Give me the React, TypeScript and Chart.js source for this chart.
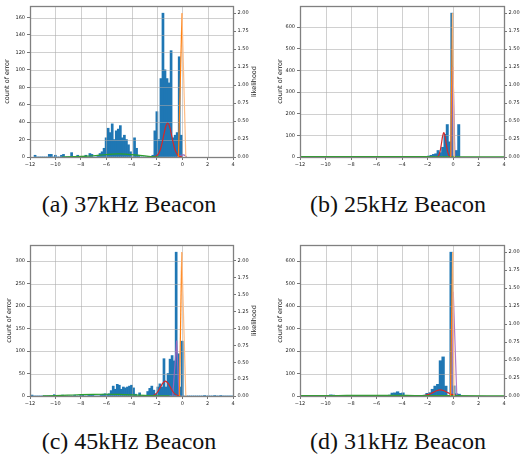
import React, { useEffect, useRef } from "react";
import { Chart, registerables } from "chart.js";

Chart.register(...registerables);

type Pt = [number, number];

// ---------- shared axis values ----------
const X_MIN = -12;
const X_MAX = 4;
const X_STEP = 2;
const LIKE_STEP = 0.25;
const LIKE_TOP_TICK = 2.0;

// ---------- (a) 37kHz Beacon ----------
const A_BIN_START = -11.68;
const A_BIN_WIDTH = 0.16;
const A_COUNTS = [
  2, 0, 0, 0, 0, 0, 0, 3, 3, 0, 2, 0, 0, 2, 3, 0, 0, 0, 5, 0,
  0, 2, 0, 0, 0, 2, 0, 4, 3, 0, 0, 2, 4, 6, 10, 22, 33, 28, 38, 20,
  30, 32, 36, 22, 25, 20, 14, 6, 0, 22, 10, 2, 0, 0, 0, 0, 0, 0, 2, 30,
  52, 20, 90, 165, 100, 90, 85, 122, 22, 25, 28, 115, 25,
];
const A_COUNT_MAX = 173.25;
const A_COUNT_STEP = 20;
const A_COUNT_TOP_TICK = 160;
const A_LIKE_MAX = 2.1;
const A_GREEN: Pt[] = [[-9.5, 0], [-8.5, 0.004], [-7.5, 0.012], [-6.5, 0.026], [-5.5, 0.04], [-5, 0.043], [-4.5, 0.04], [-3.5, 0.026], [-2.8, 0.012], [-2.2, 0.003], [-1.8, 0]];
const A_RED: Pt[] = [[-2.3, 0], [-2.15, 0.005], [-1.95, 0.025], [-1.75, 0.09], [-1.6, 0.186], [-1.45, 0.311], [-1.3, 0.424], [-1.15, 0.47], [-1.0, 0.424], [-0.85, 0.311], [-0.7, 0.186], [-0.55, 0.09], [-0.35, 0.025], [-0.15, 0.005], [0, 0]];
const A_ORANGE: Pt[] = [[-0.3, 0], [-0.02, 2.0], [0.28, 0]];
const A_PURPLE: Pt[] = [[-0.4, 0], [-0.15, 0.025], [0.1, 0.03], [0.35, 0]];

// ---------- (b) 25kHz Beacon ----------
const B_BIN_START = -2.16;
const B_BIN_WIDTH = 0.18;
const B_COUNTS = [3, 5, 8, 12, 15, 30, 20, 45, 105, 150, 70, 665, 5, 30, 150];
const B_COUNT_MAX = 698;
const B_COUNT_STEP = 100;
const B_COUNT_TOP_TICK = 600;
const B_LIKE_MAX = 2.1;
const B_GREEN: Pt[] = [[-12, 0.004], [-8, 0.005], [-4, 0.005], [-2, 0.004], [0, 0.003], [4, 0.002]];
const B_RED: Pt[] = [[-1.3, 0], [-1.17, 0.01], [-1.02, 0.072], [-0.92, 0.17], [-0.82, 0.286], [-0.72, 0.34], [-0.62, 0.286], [-0.52, 0.17], [-0.42, 0.072], [-0.27, 0.01], [-0.15, 0]];
const B_ORANGE: Pt[] = [[-0.18, 0], [-0.04, 2.0], [0.1, 0]];
const B_PURPLE: Pt[] = [[-0.1, 0], [0.0, 1.25], [0.15, 0]];

// ---------- (c) 45kHz Beacon ----------
const C_BIN_START = -12.08;
const C_BIN_WIDTH = 0.16;
const C_COUNTS = [
  0, 2, 0, 0, 0, 0, 0, 0, 0, 0, 0, 0, 3, 0, 0, 0, 2, 0, 0, 0,
  0, 0, 2, 0, 0, 2, 3, 0, 0, 2, 3, 2, 0, 0, 0, 3, 4, 5, 4, 5,
  12, 22, 15, 26, 24, 15, 20, 18, 20, 22, 24, 18, 4, 0, 7, 0, 0, 0, 10, 17,
  22, 13, 5, 20, 27, 20, 83, 20, 50, 82, 90, 78, 320, 94, 20, 122, 0, 0, 0, 0,
  0, 0, 0, 0, 0, 0, 1, 0, 0, 0, 0, 1, 0, 0, 1, 0, 0, 0, 0, 0, 0,
];
const C_COUNT_MAX = 336;
const C_COUNT_STEP = 50;
const C_COUNT_TOP_TICK = 300;
const C_LIKE_MAX = 2.2365;
const C_GREEN: Pt[] = [[-11, 0.002], [-10, 0.006], [-9, 0.012], [-8, 0.019], [-7, 0.024], [-6, 0.026], [-5, 0.024], [-4, 0.018], [-3, 0.01], [-2, 0.004], [-1, 0.001]];
const C_RED: Pt[] = [[-2.53, 0], [-2.33, 0.007], [-2.13, 0.024], [-1.93, 0.063], [-1.73, 0.127], [-1.53, 0.19], [-1.33, 0.22], [-1.13, 0.19], [-0.93, 0.127], [-0.73, 0.063], [-0.53, 0.024], [-0.33, 0.007], [-0.13, 0]];
const C_PURPLE: Pt[] = [[-0.75, 0], [-0.44, 0.82], [-0.25, 0]];
const C_ORANGE: Pt[] = [[-0.22, 0], [-0.04, 2.13], [0.28, 0]];

// ---------- (d) 31kHz Beacon ----------
const D_BIN_START = -9.91;
const D_BIN_WIDTH = 0.21;
const D_COUNTS = [
  0, 5, 4, 0, 0, 0, 0, 0, 0, 0, 0, 0, 0, 0, 0, 0, 0, 3, 0, 0,
  0, 0, 0, 4, 13, 14, 19, 12, 14, 0, 0, 0, 0, 0, 0, 0, 4, 12, 15, 30,
  44, 52, 157, 174, 44, 0, 640, 45, 10, 8,
];
const D_COUNT_MAX = 672;
const D_COUNT_STEP = 100;
const D_COUNT_TOP_TICK = 600;
const D_LIKE_MAX = 2.1;
const D_GREEN: Pt[] = [[-12, 0.004], [-9, 0.007], [-6, 0.009], [-3, 0.007], [0, 0.004], [4, 0.002]];
const D_RED: Pt[] = [[-2.6, 0.001], [-2.2, 0.008], [-1.9, 0.022], [-1.6, 0.047], [-1.3, 0.073], [-1.0, 0.085], [-0.7, 0.073], [-0.4, 0.047], [-0.1, 0.022], [0.2, 0.008], [0.6, 0.001]];
const D_ORANGE: Pt[] = [[-0.2, 0], [-0.03, 2.0], [0.08, 0]];
const D_PURPLE: Pt[] = [[-0.1, 0], [0.02, 1.45], [0.3, 0]];

const CAPTIONS = ["(a) 37kHz Beacon", "(b) 25kHz Beacon", "(c) 45kHz Beacon", "(d) 31kHz Beacon"];
const LEFT_TITLE = "count of error";
const RIGHT_TITLE = "likelihood";

// ---------- styles ----------
const BLUE = "#1f77b4";
const ORANGE = "#ff7f0e";
const ORANGE_LIGHT = "#ffbd85";
const GREEN = "#2ca02c";
const RED = "#d62728";
const PURPLE = "#9467bd";
const GRID = "rgba(170,170,170,0.55)";
const TEXT = "#222";
const TICK_FONT = 5;
const TITLE_FONT = 6.5;
const FAMILY = "'DejaVu Sans', sans-serif";

type LineSpec = { pts: Pt[]; color: string; fall?: string; smooth?: boolean };
type PanelSpec = {
  binStart: number;
  binWidth: number;
  counts: number[];
  countMax: number;
  countStep: number;
  countTopTick: number;
  likeMax: number;
  lines: LineSpec[];
  leftW: number;
  rightW: number;
  leftTitleX: number;
  rightTitleX: number | null;
};

const CANVAS_W = 261;
const CANVAS_H = 175;
const TOP_PAD = 6;
const BOTTOM_H = 18;

const PANELS: { spec: PanelSpec; left: number; top: number }[] = [
  {
    left: 0, top: 0,
    spec: {
      binStart: A_BIN_START, binWidth: A_BIN_WIDTH, counts: A_COUNTS, countMax: A_COUNT_MAX, countStep: A_COUNT_STEP, countTopTick: A_COUNT_TOP_TICK, likeMax: A_LIKE_MAX,
      lines: [
        { pts: A_ORANGE, color: ORANGE, fall: ORANGE_LIGHT },
        { pts: A_GREEN, color: GREEN, smooth: true },
        { pts: A_RED, color: RED, smooth: true },
        { pts: A_PURPLE, color: PURPLE, smooth: true },
      ],
      leftW: 30, rightW: 28, leftTitleX: 7, rightTitleX: 254,
    },
  },
  {
    left: 261, top: 0,
    spec: {
      binStart: B_BIN_START, binWidth: B_BIN_WIDTH, counts: B_COUNTS, countMax: B_COUNT_MAX, countStep: B_COUNT_STEP, countTopTick: B_COUNT_TOP_TICK, likeMax: B_LIKE_MAX,
      lines: [
        { pts: B_ORANGE, color: ORANGE, fall: ORANGE_LIGHT },
        { pts: B_GREEN, color: GREEN, smooth: true },
        { pts: B_RED, color: RED, smooth: true },
        { pts: B_PURPLE, color: PURPLE },
      ],
      leftW: 39, rightW: 18, leftTitleX: 19.5, rightTitleX: null,
    },
  },
  {
    left: 0, top: 239,
    spec: {
      binStart: C_BIN_START, binWidth: C_BIN_WIDTH, counts: C_COUNTS, countMax: C_COUNT_MAX, countStep: C_COUNT_STEP, countTopTick: C_COUNT_TOP_TICK, likeMax: C_LIKE_MAX,
      lines: [
        { pts: C_ORANGE, color: ORANGE, fall: ORANGE_LIGHT },
        { pts: C_GREEN, color: GREEN, smooth: true },
        { pts: C_RED, color: RED, smooth: true },
        { pts: C_PURPLE, color: PURPLE },
      ],
      leftW: 30, rightW: 28, leftTitleX: 9, rightTitleX: 254,
    },
  },
  {
    left: 261, top: 239,
    spec: {
      binStart: D_BIN_START, binWidth: D_BIN_WIDTH, counts: D_COUNTS, countMax: D_COUNT_MAX, countStep: D_COUNT_STEP, countTopTick: D_COUNT_TOP_TICK, likeMax: D_LIKE_MAX,
      lines: [
        { pts: D_ORANGE, color: ORANGE, fall: ORANGE_LIGHT },
        { pts: D_GREEN, color: GREEN, smooth: true },
        { pts: D_RED, color: RED, smooth: true },
        { pts: D_PURPLE, color: "#b07cc6" },
      ],
      leftW: 39, rightW: 18, leftTitleX: 19.5, rightTitleX: null,
    },
  },
];

const overlayPlugin = {
  id: "overlay",
  afterDatasetDraw(chart: any, args: any) {
    const ds = chart.data.datasets[args.index];
    if (ds.type !== "bar") return;
    const { ctx, chartArea: a, scales } = chart;
    ctx.save();
    ctx.strokeStyle = GRID;
    ctx.lineWidth = 1;
    ctx.beginPath();
    scales.x.ticks.forEach((t: any) => {
      const px = Math.round(scales.x.getPixelForValue(t.value)) + 0.5;
      ctx.moveTo(px, a.top);
      ctx.lineTo(px, a.bottom);
    });
    scales.y.ticks.forEach((t: any) => {
      const py = Math.round(scales.y.getPixelForValue(t.value)) + 0.5;
      ctx.moveTo(a.left, py);
      ctx.lineTo(a.right, py);
    });
    ctx.stroke();
    ctx.restore();
  },
  afterDraw(chart: any, _args: any, opts: any) {
    const { ctx, chartArea: a } = chart;
    ctx.save();
    ctx.strokeStyle = "#808080";
    ctx.lineWidth = 1.3;
    ctx.strokeRect(Math.round(a.left) + 0.5, Math.round(a.top) + 0.5, Math.round(a.right - a.left), Math.round(a.bottom - a.top));
    ctx.fillStyle = TEXT;
    ctx.font = `${TITLE_FONT}px ${FAMILY}`;
    ctx.textAlign = "center";
    ctx.textBaseline = "middle";
    const cy = (a.top + a.bottom) / 2;
    ctx.save();
    ctx.translate(opts.leftTitleX, cy);
    ctx.rotate(-Math.PI / 2);
    ctx.fillText(LEFT_TITLE, 0, 0);
    ctx.restore();
    if (opts.rightTitleX != null) {
      ctx.save();
      ctx.translate(opts.rightTitleX, cy);
      ctx.rotate(-Math.PI / 2);
      ctx.fillText(RIGHT_TITLE, 0, 0);
      ctx.restore();
    }
    ctx.restore();
  },
};

const fmtX = (v: number) => (v < 0 ? "\u2212" + Math.abs(v) : String(v));

// evenly spaced tick values from 0 up to the top labelled tick
function stepTicks(step: number, top: number) {
  const out: { value: number }[] = [];
  const n = Math.round(top / step);
  for (let i = 0; i <= n; i++) out.push({ value: i * step });
  return out;
}

function buildConfig(p: PanelSpec): any {
  const bars = p.counts.map((c, i) => ({ x: p.binStart + (i + 0.5) * p.binWidth, y: c }));
  const lineSets = p.lines.map((ln, i) => ({
    type: "line",
    data: ln.pts.map(([x, y]) => ({ x, y })),
    yAxisID: "y2",
    borderColor: ln.color,
    borderWidth: 1.2,
    pointRadius: 0,
    fill: false,
    tension: ln.smooth ? 0.4 : 0,
    cubicInterpolationMode: ln.smooth ? "monotone" : "default",
    order: i,
    segment: ln.fall
      ? { borderColor: (c: any) => (c.p1.parsed.y < c.p0.parsed.y ? ln.fall : ln.color) }
      : undefined,
  }));
  const tickFont = { size: TICK_FONT, family: FAMILY };
  return {
    type: "bar",
    data: {
      datasets: [
        ...lineSets,
        {
          type: "bar",
          data: bars,
          yAxisID: "y",
          backgroundColor: BLUE,
          borderWidth: 0,
          barPercentage: 1,
          categoryPercentage: 1,
          order: 20,
        },
      ],
    },
    options: {
      animation: false,
      responsive: false,
      events: [],
      layout: { padding: { top: TOP_PAD, left: 0, right: 0, bottom: 0 } },
      plugins: {
        legend: { display: false },
        tooltip: { enabled: false },
        overlay: { leftTitleX: p.leftTitleX, rightTitleX: p.rightTitleX },
      },
      scales: {
        x: {
          type: "linear",
          min: X_MIN,
          max: X_MAX,
          offset: false,
          ticks: { stepSize: X_STEP, font: tickFont, color: TEXT, padding: 1.5, maxRotation: 0, autoSkip: false, callback: (v: any) => fmtX(Number(v)) },
          grid: { offset: false, drawOnChartArea: false, drawTicks: true, tickLength: 3, tickColor: "#777" },
          border: { display: false },
          afterFit: (s: any) => { s.height = BOTTOM_H; },
        },
        y: {
          type: "linear",
          position: "left",
          min: 0,
          max: p.countMax,
          ticks: { font: tickFont, color: TEXT, padding: 2, autoSkip: false },
          afterBuildTicks: (s: any) => { s.ticks = stepTicks(p.countStep, p.countTopTick); },
          grid: { drawOnChartArea: false, drawTicks: true, tickLength: 3, tickColor: "#777" },
          border: { display: false },
          afterFit: (s: any) => { s.width = p.leftW; },
        },
        y2: {
          type: "linear",
          position: "right",
          min: 0,
          max: p.likeMax,
          ticks: { font: tickFont, color: TEXT, padding: 1.5, autoSkip: false, callback: (v: any) => Number(v).toFixed(2) },
          afterBuildTicks: (s: any) => { s.ticks = stepTicks(LIKE_STEP, LIKE_TOP_TICK); },
          grid: { drawOnChartArea: false, drawTicks: true, tickLength: 3, tickColor: "#777" },
          border: { display: false },
          afterFit: (s: any) => { s.width = p.rightW; },
        },
      },
    },
    plugins: [overlayPlugin],
  };
}

function Panel({ spec, left, top }: { spec: PanelSpec; left: number; top: number }) {
  const ref = useRef<HTMLCanvasElement>(null);
  useEffect(() => {
    const chart = new Chart(ref.current as HTMLCanvasElement, buildConfig(spec));
    return () => chart.destroy();
  }, [spec]);
  return (
    <canvas
      ref={ref}
      width={CANVAS_W}
      height={CANVAS_H}
      style={{ position: "absolute", left, top, width: CANVAS_W, height: CANVAS_H }}
    />
  );
}

const CAPTION_POS = [
  { left: 0, top: 192, width: 258 },
  { left: 276, top: 192, width: 244 },
  { left: 0, top: 429, width: 258 },
  { left: 276, top: 429, width: 244 },
];

export default function App() {
  return (
    <div style={{ position: "absolute", left: 0, top: 0, width: 522, height: 458, overflow: "hidden", background: "#fff" }}>
      {PANELS.map((p, i) => (
        <Panel key={i} spec={p.spec} left={p.left} top={p.top} />
      ))}
      {CAPTIONS.map((c, i) => (
        <div
          key={c}
          style={{
            position: "absolute",
            left: CAPTION_POS[i].left,
            top: CAPTION_POS[i].top,
            width: CAPTION_POS[i].width,
            textAlign: "center",
            fontFamily: "'Liberation Serif', 'Times New Roman', serif",
            fontSize: 24,
            lineHeight: "24px",
            color: "#111",
            whiteSpace: "nowrap",
          }}
        >
          {c}
        </div>
      ))}
    </div>
  );
}
